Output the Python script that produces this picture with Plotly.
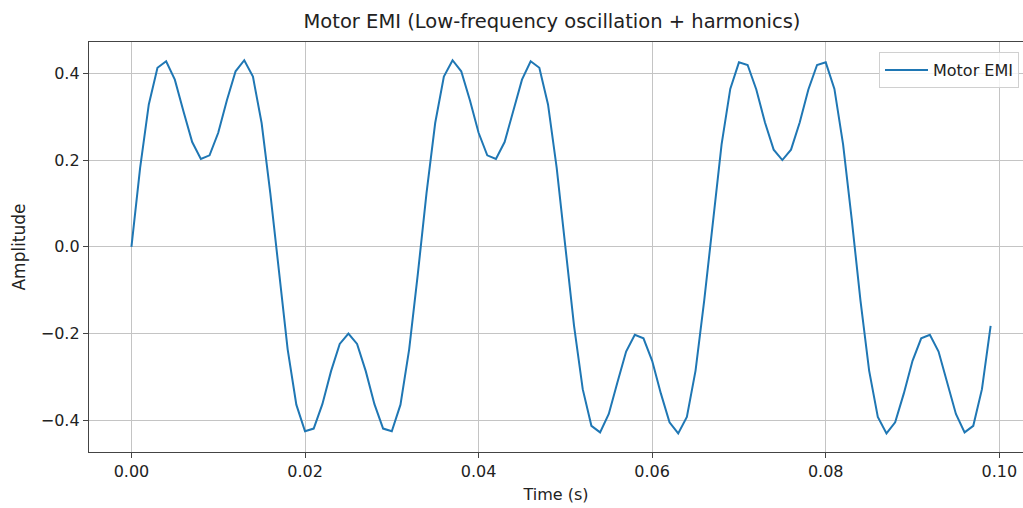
import plotly.graph_objects as go

# Sample times (s), 1 ms spacing
time_s = [i / 1000 for i in range(100)]

# Amplitude values (0..49)
amp_first_half = [
    0.0000, 0.1821, 0.3282, 0.4127, 0.4279, 0.3854, 0.3122, 0.2416, 0.2027, 0.2109,
    0.2629, 0.3380, 0.4046, 0.4302, 0.3923, 0.2854, 0.1237, -0.0626, -0.2364, -0.3640,
    -0.4253, -0.4191, -0.3628, -0.2867, -0.2240, -0.2000, -0.2240, -0.2867, -0.3628, -0.4191,
    -0.4253, -0.3640, -0.2364, -0.0626, 0.1237, 0.2854, 0.3923, 0.4302, 0.4046, 0.3380,
    0.2629, 0.2109, 0.2027, 0.2416, 0.3122, 0.3854, 0.4279, 0.4127, 0.3282, 0.1821,
]
# Amplitude values (50..99)
amp_second_half = [
    0.0000, -0.1821, -0.3282, -0.4127, -0.4279, -0.3854, -0.3122, -0.2416, -0.2027, -0.2109,
    -0.2629, -0.3380, -0.4046, -0.4302, -0.3923, -0.2854, -0.1237, 0.0626, 0.2364, 0.3640,
    0.4253, 0.4191, 0.3628, 0.2867, 0.2240, 0.2000, 0.2240, 0.2867, 0.3628, 0.4191,
    0.4253, 0.3640, 0.2364, 0.0626, -0.1237, -0.2854, -0.3923, -0.4302, -0.4046, -0.3380,
    -0.2629, -0.2109, -0.2027, -0.2416, -0.3122, -0.3854, -0.4279, -0.4127, -0.3282, -0.1821,
]
amplitude = amp_first_half + amp_second_half

x_ticks = [0.00, 0.02, 0.04, 0.06, 0.08, 0.10]
x_tick_labels = ["0.00", "0.02", "0.04", "0.06", "0.08", "0.10"]
y_ticks = [-0.4, -0.2, 0.0, 0.2, 0.4]
y_tick_labels = ["\u22120.4", "\u22120.2", "0.0", "0.2", "0.4"]

FONT = "DejaVu Sans"
W, H = 1023, 508
ML, MR, MT, MB = 89, 0, 42, 56

fig = go.Figure()
fig.add_trace(go.Scatter(
    x=time_s, y=amplitude, mode="lines", name="Motor EMI",
    line=dict(color="#1f77b4", width=2),
))

fig.update_layout(
    width=W, height=H,
    margin=dict(l=ML, r=MR, t=MT, b=MB, autoexpand=False),
    paper_bgcolor="white", plot_bgcolor="white",
    font=dict(family=FONT, size=16, color="#222"),
    title=dict(
        text="Motor EMI (Low-frequency oscillation + harmonics)",
        x=552 / W, xref="container", xanchor="center",
        y=1 - 21 / H, yref="container", yanchor="middle",
        font=dict(family=FONT, size=19.5, color="#222"),
    ),
    showlegend=True,
    legend=dict(
        x=(879 - ML) / (W - ML - MR), xanchor="left",
        y=(H - MB - 52) / (H - MB - MT), yanchor="top",
        bgcolor="rgba(255,255,255,0.8)", bordercolor="#d0d0d0", borderwidth=1,
        itemwidth=43,
        font=dict(family=FONT, size=16, color="#222"),
    ),
    xaxis=dict(
        range=[-0.00489, 0.10273], automargin=False,
        tickvals=x_ticks, ticktext=x_tick_labels,
        tickfont=dict(size=16, color="#222"),
        showgrid=True, gridcolor="#c4c4c4", gridwidth=1,
        zeroline=False,
        showline=True, linecolor="#444", linewidth=1.3, mirror=True,
        ticks="outside", ticklen=5, tickcolor="#444", tickwidth=1,
        title=dict(text="Time (s)", standoff=8, font=dict(size=16, color="#222")),
    ),
    yaxis=dict(
        range=[-0.4731, 0.4722], automargin=False,
        tickvals=y_ticks, ticktext=y_tick_labels,
        tickfont=dict(size=16, color="#222"),
        showgrid=True, gridcolor="#c4c4c4", gridwidth=1,
        zeroline=False,
        showline=True, linecolor="#444", linewidth=1.3, mirror=False,
        ticks="outside", ticklen=5, tickcolor="#444", tickwidth=1,
        title=dict(text="Amplitude", standoff=10, font=dict(size=17, color="#222")),
    ),
)

fig.write_html(
    "out.html",
    config={"displayModeBar": False},
    post_script="document.body.style.margin='0';document.body.style.overflow='hidden';",
)
